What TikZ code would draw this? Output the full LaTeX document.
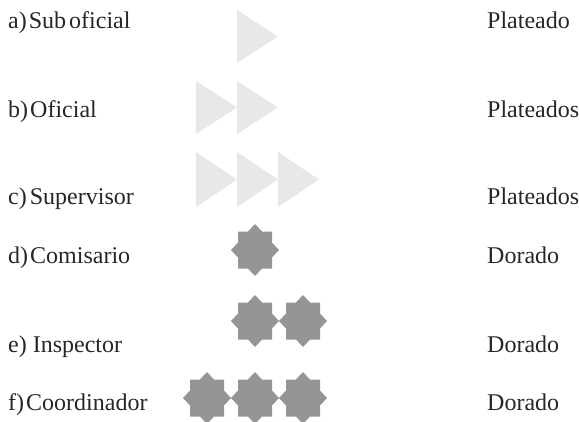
\documentclass[tikz,border=0pt]{standalone}
\usepackage{fontspec}
\setmainfont{Liberation Serif}
\definecolor{trigray}{HTML}{E8E8E8}
\definecolor{stargray}{HTML}{959595}
\tikzset{
  lbl/.style={anchor=base west, inner sep=0pt, font=\fontsize{24}{28}\selectfont, text=black!85},
  tri/.style={fill=trigray},
  star8/.pic={\fill[stargray] (0,-26)--(7,-18.5)--(17,-18.5)--(17,-7.5)--(24,0)--(17,7.5)--(17,18.5)--(7,18.5)--(0,26)--(-7,18.5)--(-17,18.5)--(-17,7.5)--(-24,0)--(-17,-7.5)--(-17,-18.5)--(-7,-18.5)--cycle;}
}
\begin{document}
\begin{tikzpicture}[x=1pt,y=-1pt]
\useasboundingbox (0,0) rectangle (579,421);
% left labels
\node[lbl] (la) at (8,28) {a)\hspace{2pt}Sub\hspace{3pt}oficial};
\node[lbl] (lb) at (8,117) {b)\hspace{2pt}Oficial};
\node[lbl] (lc) at (8,204) {c)\hspace{3pt}Supervisor};
\node[lbl] (ld) at (8,263) {d)\hspace{2pt}Comisario};
\node[lbl] (le) at (8,352) {e)\hspace{6pt}Inspector};
\node[lbl] (lf) at (8,410) {f)\hspace{2pt}Coordinador};
% right labels
\node[lbl] (ra) at (487,28) {Plateado};
\node[lbl] (rb) at (487,117) {Plateados};
\node[lbl] (rc) at (487,204) {Plateados};
\node[lbl] (rd) at (487,263) {Dorado};
\node[lbl] (re) at (487,352) {Dorado};
\node[lbl] (rf) at (487,410) {Dorado};
% triangles
\fill[tri] (237,10)--(237,63)--(278,36.5)--cycle;
\fill[tri] (196,81)--(196,134)--(237,107.5)--cycle;
\fill[tri] (237,81)--(237,134)--(278,107.5)--cycle;
\fill[tri] (196,152)--(196,207)--(237,179.5)--cycle;
\fill[tri] (237,152)--(237,207)--(278,179.5)--cycle;
\fill[tri] (278,152)--(278,207)--(319,179.5)--cycle;
% stars
\pic at (255,250) {star8};
\pic at (255,321) {star8};
\pic at (303,321) {star8};
\pic at (207,398) {star8};
\pic at (255,398) {star8};
\pic at (303,398) {star8};
\end{tikzpicture}
\end{document}
